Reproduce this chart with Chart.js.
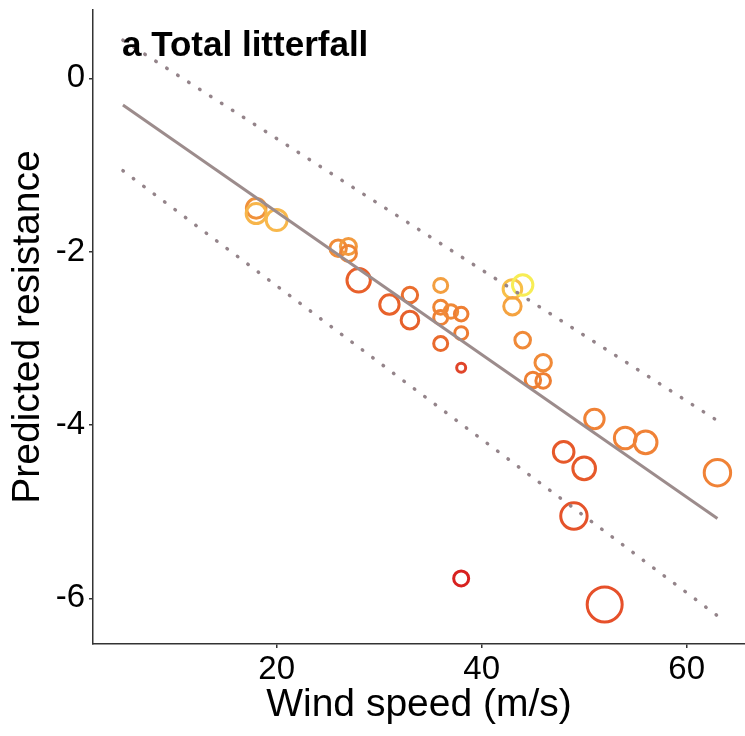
<!DOCTYPE html>
<html>
<head>
<meta charset="utf-8">
<title>Total litterfall</title>
<script src="https://cdn.jsdelivr.net/npm/chart.js@4.4.0/dist/chart.umd.min.js"></script>
<style>
  html, body { margin: 0; padding: 0; background: #fff; }
  #chart-box { width: 745px; height: 736px; }
</style>
</head>
<body>
<div id="chart-box">
  <canvas id="my-chart" width="745" height="736"></canvas>
</div>
<script>
'use strict';

// *** Data ***

let windSpeed = [18, 18, 20, 26, 27, 27, 28, 31, 33, 33, 36, 36, 36, 37, 38, 38, 36, 38,
  43, 44, 43, 44, 46, 45, 46, 51, 54, 56, 48, 50, 63, 49, 38, 52];
let resistance = [-1.50, -1.56, -1.635, -1.96, -1.94, -2.02, -2.33, -2.61, -2.50, -2.79,
  -2.39, -2.64, -2.76, -2.69, -2.72, -2.94, -3.06, -3.34,
  -2.43, -2.385, -2.63, -3.02, -3.28, -3.48, -3.49, -3.93, -4.15, -4.20, -4.31, -4.50,
  -4.55, -5.05, -5.77, -6.07];

// fitted line and dotted prediction band, read at x = 5 and x = 63
let fitX = [5, 63];
let fitY = [-0.308, -5.077];
let upperY = [0.44, -3.95];
let lowerY = [-1.066, -6.20];

let xTicks = [20, 40, 60];
let yTicks = [-6, -4, -2, 0];

// *** Styles for the points (size and colour legend not shown in the figure) ***

let pointRadii = [9.8, 10, 10.5, 8.2, 8, 8, 11.7, 9.7, 7.7, 8.8, 7, 7, 7, 6.8, 6.8, 6.5, 7, 4.5,
  9.3, 10.2, 8.7, 7.8, 8.2, 7.7, 7.3, 9.7, 10.8, 11.3, 10.3, 11.3, 13.2, 13.2, 7.5, 17.5];
let pointColors = ['#f0913a', '#f7b54a', '#f8b84c', '#f08c38', '#f29a3e', '#ee8434', '#e8602b',
  '#e8622b', '#ea6e2e', '#e6602b', '#f39f40', '#ef8634', '#ef8234', '#f08a38', '#ee7f33',
  '#ee7c32', '#e96a2d', '#e0452a', '#f8bf48', '#f7ed55', '#f5a340', '#f08a38', '#f08a38',
  '#ee7f33', '#ee7f33', '#f08236', '#f08236', '#f08236', '#e6592a', '#e6592a', '#f08236',
  '#e5532a', '#d8211f', '#e6502a'];

// *** Helpers ***

function toPoints(xs, ys) {
  let pts = [];
  for (let i = 0; i < xs.length; i++) {
    pts.push({ x: xs[i], y: ys[i] });
  }
  return pts;
}

// no extra room for tick labels at the ends, the axes run to the edges
function noEdgePadding(scale) {
  scale.paddingLeft = 0;
  scale.paddingRight = 0;
  scale.paddingTop = 0;
  scale.paddingBottom = 0;
}

let fontFamily = '"Liberation Sans", Arial, sans-serif';

// panel label drawn in the top-left corner of the plot
let panelLabel = {
  id: 'panelLabel',
  afterDraw(chart) {
    let c = chart.ctx;
    c.save();
    c.font = 'bold 35px ' + fontFamily;
    c.fillStyle = '#000';
    c.textAlign = 'left';
    c.textBaseline = 'alphabetic';
    c.fillText('a Total litterfall', 122, 56);
    c.restore();
  }
};

let ctx = document.getElementById('my-chart');

let chartObj = {
  type: 'scatter',
  data: {
    datasets: [
      {
        label: 'fit',
        data: toPoints(fitX, fitY),
        showLine: true,
        borderColor: '#9c8c8c',
        borderWidth: 3,
        pointRadius: 0,
        fill: false
      },
      {
        label: 'upper',
        data: toPoints(fitX, upperY),
        showLine: true,
        borderColor: '#94848a',
        borderWidth: 3.5,
        borderDash: [0.5, 12.5],
        borderCapStyle: 'round',
        pointRadius: 0,
        fill: false
      },
      {
        label: 'lower',
        data: toPoints(fitX, lowerY),
        showLine: true,
        borderColor: '#94848a',
        borderWidth: 3.5,
        borderDash: [0.5, 12.5],
        borderCapStyle: 'round',
        pointRadius: 0,
        fill: false
      },
      {
        label: 'sites',
        data: toPoints(windSpeed, resistance),
        pointRadius: pointRadii,
        pointBorderColor: pointColors,
        pointBackgroundColor: 'rgba(0,0,0,0)',
        pointBorderWidth: 3,
        pointHoverRadius: pointRadii
      }
    ]
  },
  options: {
    responsive: false,
    devicePixelRatio: 1,
    animation: false,
    layout: { autoPadding: false, padding: { top: 10, right: 0, left: 0, bottom: 0 } },
    plugins: {
      legend: { display: false },
      tooltip: { enabled: false }
    },
    scales: {
      x: {
        type: 'linear',
        min: 2.08,
        max: 65.69,
        afterBuildTicks: function (scale) {
          scale.ticks = xTicks.map(v => ({ value: v }));
        },
        afterFit: function (scale) {
          scale.height = 92;
          noEdgePadding(scale);
        },
        grid: { drawOnChartArea: false, drawTicks: true, tickLength: 4, color: '#333', lineWidth: 1.5 },
        border: { display: true, color: '#333', width: 1.5 },
        ticks: { color: '#000', padding: 2, font: { size: 33, family: fontFamily } },
        title: {
          display: true,
          text: 'Wind speed (m/s)',
          color: '#000',
          font: { size: 39, family: fontFamily },
          padding: { top: 0, bottom: 7 }
        }
      },
      y: {
        type: 'linear',
        min: -6.526,
        max: 0.788,
        afterBuildTicks: function (scale) {
          scale.ticks = yTicks.map(v => ({ value: v }));
        },
        afterFit: function (scale) {
          scale.width = 93;
          noEdgePadding(scale);
        },
        grid: { drawOnChartArea: false, drawTicks: true, tickLength: 4, color: '#333', lineWidth: 1.5 },
        border: { display: true, color: '#333', width: 1.5 },
        ticks: { color: '#000', padding: 4, font: { size: 33, family: fontFamily } },
        title: {
          display: true,
          text: 'Predicted resistance',
          color: '#000',
          font: { size: 39, family: fontFamily },
          padding: { top: 5, bottom: 0 }
        }
      }
    }
  },
  plugins: [panelLabel]
};

new Chart(ctx, chartObj);
</script>
</body>
</html>
